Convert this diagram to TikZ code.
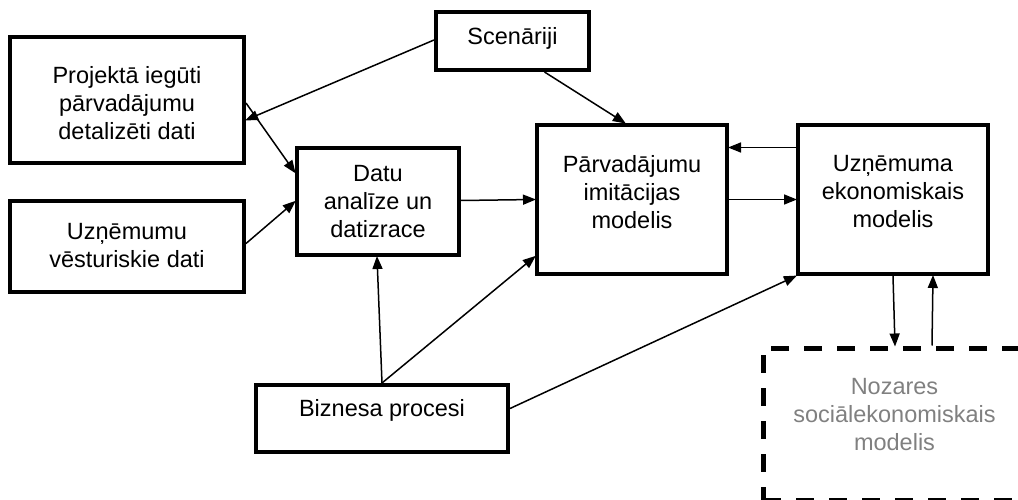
\documentclass[tikz,border=0pt]{standalone}
\usepackage{fontspec}
\setmainfont{Liberation Sans}
\usetikzlibrary{arrows.meta}
\begin{document}
\begin{tikzpicture}[x=1pt,y=-1pt,
  box/.style={draw, line width=4pt, inner sep=0pt, fill=white},
  dbox/.style={draw, line width=5pt, inner sep=0pt, dash pattern=on 18pt off 15pt},
  lbl/.style={align=center, font=\fontsize{23.5pt}{28pt}\selectfont, inner sep=0pt},
  conn/.style={line width=1.5pt, -{Triangle[length=13pt,width=10pt]}, shorten >=-1pt}]
\useasboundingbox (0,0) rectangle (1018,500);
\clip (0,0) rectangle (1018,500);

% boxes
\node[box, minimum width=234pt, minimum height=126pt] (proj) at (127,100) {};
\node[box, minimum width=234pt, minimum height=91pt] (vest) at (127,246.5) {};
\node[box, minimum width=153pt, minimum height=58pt] (scen) at (512.5,41) {};
\node[box, minimum width=162pt, minimum height=107pt] (datu) at (378,201.5) {};
\node[box, minimum width=190pt, minimum height=149pt] (pim) at (632,199.5) {};
\node[box, minimum width=190pt, minimum height=149pt] (uzn) at (893,199.5) {};
\node[box, minimum width=252pt, minimum height=67pt] (biz) at (382,418.5) {};
\node[dbox, minimum width=267pt, minimum height=152pt] (noz) at (896.5,424) {};

% texts
\node[lbl] (tproj) at (127,103) {Projektā iegūti\\pārvadājumu\\detalizēti dati};
\node[lbl] (tvest) at (127,246) {Uzņēmumu\\vēsturiskie dati};
\node[lbl] (tscen) at (512.5,38) {Scenāriji};
\node[lbl] (tdatu) at (378,202) {Datu\\analīze un\\datizrace};
\node[lbl] (tpim) at (632,192) {Pārvadājumu\\imitācijas\\modelis};
\node[lbl] (tuzn) at (893,192) {Uzņēmuma\\ekonomiskais\\modelis};
\node[lbl] (tbiz) at (382,410) {Biznesa procesi};
\node[lbl, text=black!50] (tnoz) at (894.5,415) {Nozares\\sociālekonomiskais\\modelis};

% connectors
\draw[conn] ([yshift=1pt]scen.west) -- ([yshift=-20pt]proj.east);
\draw[conn] ([xshift=32pt]scen.south) -- ([xshift=-7pt]pim.north);
\draw[conn] ([yshift=-3pt]proj.east) -- ([yshift=29pt]datu.west);
\draw[conn] ([yshift=3pt]vest.east) -- ([yshift=0pt]datu.west);
\draw[conn] ([yshift=1pt]datu.east) -- ([yshift=0pt]pim.west);
\coordinate (bt) at ([xshift=0pt]biz.north);
\draw[conn] (bt) -- ([xshift=-1pt]datu.south);
\draw[conn] (bt) -- ([yshift=-57pt]pim.west);
\draw[conn] ([yshift=10pt]biz.east) -- (uzn.south west);
\draw[conn] ([yshift=52pt]uzn.west) -- ([yshift=52pt]pim.east);
\draw[conn] ([yshift=0pt]pim.east) -- ([yshift=0pt]uzn.west);
\draw[conn] (uzn.south) -- ([xshift=-1.5pt]noz.north);
\draw[conn] ([xshift=35.5pt]noz.north) -- ([xshift=40pt]uzn.south);
\end{tikzpicture}
\end{document}
